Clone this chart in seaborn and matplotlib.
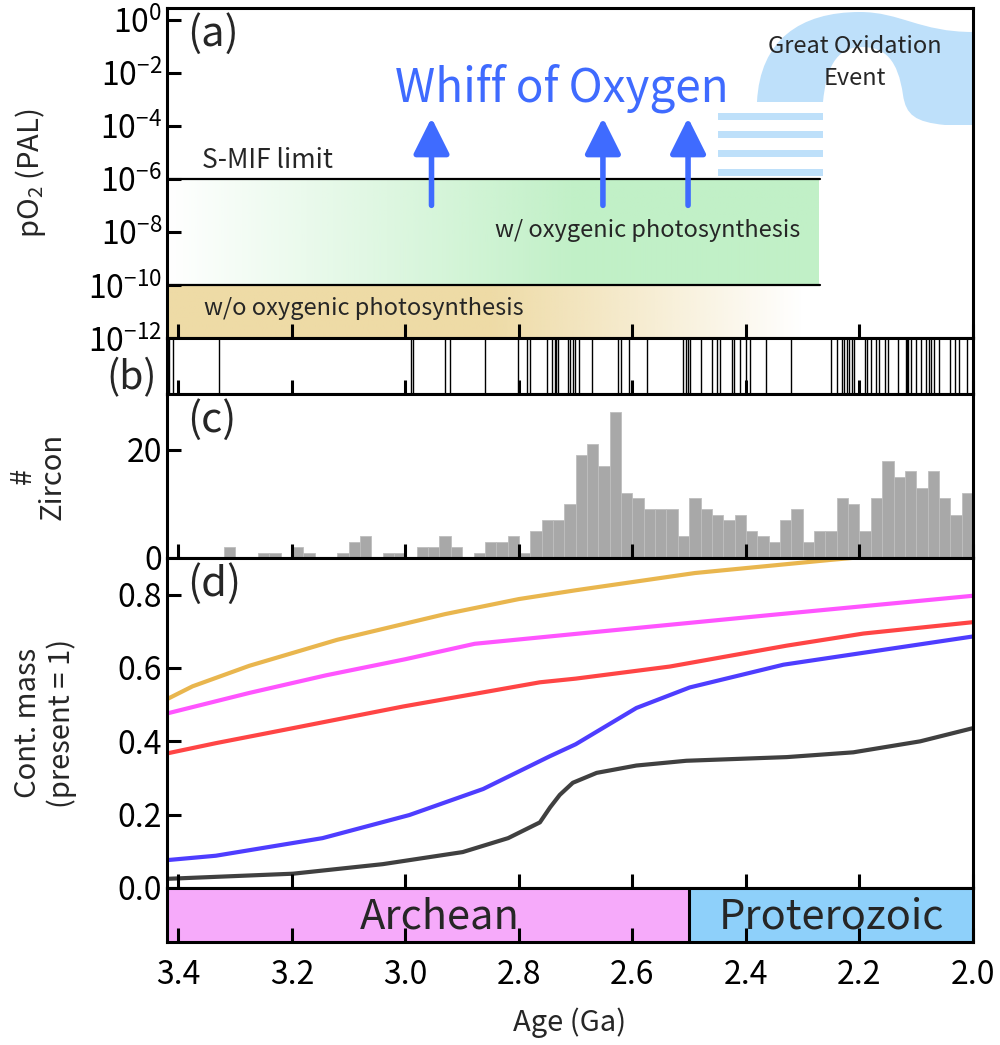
import numpy as np
import pandas as pd
import matplotlib
matplotlib.use("Agg")
import matplotlib.pyplot as plt
import seaborn as sns
from matplotlib.path import Path
from matplotlib.patches import PathPatch

# ---------------- data ----------------
age_ticks = [3.4, 3.2, 3.0, 2.8, 2.6, 2.4, 2.2, 2.0]
age_tick_labels = ["3.4", "3.2", "3.0", "2.8", "2.6", "2.4", "2.2", "2.0"]
age_limits = [3.42, 2.0]

po2_ticks = [1e0, 1e-2, 1e-4, 1e-6, 1e-8, 1e-10, 1e-12]
po2_limits = [1e-12, 10 ** 0.44]
smif_limit = 1e-6
photo_floor = 1e-10
photo_end_age = 2.27
whiff_ages = [2.954, 2.652, 2.502]
whiff_base = 10 ** -7.0
whiff_tip = 10 ** -3.7
goe_stripe_levels = [10 ** -3.66, 10 ** -4.34, 10 ** -5.06, 10 ** -5.77]
goe_stripe_ages = [2.45, 2.265]

event_ages = [3.417, 3.410, 3.329, 2.991, 2.987,
              2.931, 2.921, 2.860, 2.802, 2.785, 2.780, 2.750, 2.741, 2.737,
              2.734, 2.731, 2.714, 2.710, 2.705, 2.701, 2.694, 2.671, 2.626,
              2.621, 2.606, 2.575, 2.511, 2.506, 2.502, 2.498, 2.480,
              2.4605, 2.4505, 2.446, 2.4252, 2.4206, 2.4106, 2.4006, 2.3929,
              2.3654, 2.3206, 2.2500, 2.2400, 2.2312, 2.2271, 2.2224, 2.2183,
              2.2136, 2.2095, 2.1900, 2.1870, 2.1801, 2.1713, 2.1654, 2.1548,
              2.1501, 2.1325, 2.1180, 2.1160, 2.1145, 2.1090, 2.1006, 2.0912,
              2.0824, 2.0783, 2.0737, 2.0695, 2.0607, 2.0413, 2.0325, 2.0242,
              2.0106]

zircon_bin_start = [3.42, 3.40, 3.38, 3.36, 3.34, 3.32, 3.30, 3.28, 3.26, 3.24,
                    3.22, 3.20, 3.18, 3.16, 3.14, 3.12, 3.10, 3.08, 3.06, 3.04,
                    3.02, 3.00, 2.98, 2.96, 2.94, 2.92, 2.90, 2.88, 2.86, 2.84,
                    2.82, 2.80, 2.78, 2.76, 2.74, 2.72, 2.70, 2.68, 2.66, 2.64,
                    2.62, 2.60, 2.58, 2.56, 2.54, 2.52, 2.50, 2.48, 2.46, 2.44,
                    2.42, 2.40, 2.38, 2.36, 2.34, 2.32, 2.30, 2.28, 2.26, 2.24,
                    2.22, 2.20, 2.18, 2.16, 2.14, 2.12, 2.10, 2.08, 2.06, 2.04,
                    2.02]
zircon_counts = [0, 0, 0, 0, 0, 2, 0, 0, 1, 1,
                 0, 2, 1, 0, 0, 1, 3, 4, 0, 1,
                 1, 0, 2, 2, 4, 2, 0, 1, 3, 3,
                 4, 1, 5, 7, 7, 10, 19, 21, 17, 27,
                 12, 11, 9, 9, 9, 4, 11, 9, 8, 7,
                 8, 5, 4, 3, 7, 9, 3, 5, 5, 11,
                 10, 5, 11, 18, 15, 16, 13, 16, 11, 8,
                 12]
zircon_bin_width = 0.02

mass_orange_age = [3.42, 3.375, 3.275, 3.12, 2.93, 2.80, 2.70, 2.49, 2.25, 2.0]
mass_orange = [0.515, 0.550, 0.606, 0.677, 0.747, 0.788, 0.812, 0.859, 0.895, 0.93]
mass_magenta_age = [3.42, 3.275, 3.14, 3.00, 2.878, 2.70, 2.36, 2.0]
mass_magenta = [0.476, 0.532, 0.580, 0.624, 0.666, 0.693, 0.744, 0.797]
mass_red_age = [3.42, 3.334, 3.198, 3.004, 2.887, 2.763, 2.70, 2.534, 2.328, 2.193, 2.0]
mass_red = [0.367, 0.395, 0.436, 0.495, 0.527, 0.561, 0.571, 0.604, 0.661, 0.694, 0.725]
mass_blue_age = [3.42, 3.334, 3.146, 2.993, 2.863, 2.746, 2.70, 2.593, 2.499, 2.334, 2.0]
mass_blue = [0.076, 0.088, 0.136, 0.199, 0.270, 0.359, 0.392, 0.491, 0.547, 0.609, 0.686]
mass_gray_age = [3.42, 3.198, 3.04, 2.899, 2.819, 2.763, 2.745, 2.728, 2.705, 2.663,
                 2.593, 2.505, 2.328, 2.211, 2.093, 2.0]
mass_gray = [0.025, 0.039, 0.065, 0.098, 0.136, 0.179, 0.22, 0.254, 0.287, 0.314,
             0.334, 0.347, 0.357, 0.370, 0.400, 0.436]

eras = ["Archean", "Proterozoic"]
era_start = [3.42, 2.5]
era_end = [2.5, 2.0]
era_label_age = [2.94, 2.25]

# ---------------- style ----------------
sns.set_theme(style="ticks")
FONT = ["Noto Sans CJK JP", "DejaVu Sans"]
plt.rcParams["font.family"] = FONT
plt.rcParams["mathtext.fontset"] = "custom"
plt.rcParams["mathtext.rm"] = "Noto Sans CJK JP"
plt.rcParams["mathtext.default"] = "rm"
plt.rcParams["axes.linewidth"] = 2.2
plt.rcParams["axes.edgecolor"] = "black"
plt.rcParams["axes.axisbelow"] = False

TICK_FS = 23
LABEL_FS = 21
PANEL_FS = 30
BLUE_ARROW = "#3F6BFF"
LIGHT_BLUE = "#BEE0FA"

fig = plt.figure(figsize=(10, 10.45), dpi=100)
gs = fig.add_gridspec(5, 1, left=0.167, right=0.973, top=1 - 8 / 1045,
                      bottom=1 - 942 / 1045, hspace=0,
                      height_ratios=[330, 56, 164, 330, 54])
axa = fig.add_subplot(gs[0])
axb = fig.add_subplot(gs[1], sharex=axa)
axc = fig.add_subplot(gs[2], sharex=axa)
axd = fig.add_subplot(gs[3], sharex=axa)
axe = fig.add_subplot(gs[4], sharex=axa)

for ax in (axa, axb, axc, axd, axe):
    ax.set_axisbelow(False)
    ax.tick_params(direction="in", length=10, width=2.2, labelsize=TICK_FS,
                   top=False, right=False, colors="black")
    for s in ax.spines.values():
        s.set_linewidth(2.2)
        s.set_color("black")
for ax in (axa, axb, axc, axd):
    ax.tick_params(axis="x", labelbottom=False)

# ---------------- (a) pO2 ----------------
axa.set_yscale("log")
axa.set_xlim(age_limits)
axa.set_ylim(po2_limits)

n = 400
xs = np.linspace(age_limits[0], photo_end_age, n)
tan_alpha = np.clip((xs - 2.30) / (2.85 - 2.30), 0, 1)
tan_img = np.zeros((1, n, 4))
tan_img[..., 0] = 238 / 255
tan_img[..., 1] = 219 / 255
tan_img[..., 2] = 166 / 255
tan_img[..., 3] = tan_alpha
axa.imshow(tan_img, extent=(age_limits[0], photo_end_age, po2_limits[0], photo_floor),
           aspect="auto", interpolation="bilinear", zorder=0.1)
green_alpha = np.clip((age_limits[0] - xs) / (age_limits[0] - 2.70), 0, 1)
green_img = np.zeros((1, n, 4))
green_img[..., 0] = 193 / 255
green_img[..., 1] = 240 / 255
green_img[..., 2] = 199 / 255
green_img[..., 3] = green_alpha
axa.imshow(green_img, extent=(age_limits[0], photo_end_age, photo_floor, smif_limit),
           aspect="auto", interpolation="bilinear", zorder=0.1)
axa.set_xlim(age_limits)
axa.set_ylim(po2_limits)
axa.xaxis.set_zorder(10)
axa.yaxis.set_zorder(10)

axa.plot([age_limits[0], photo_end_age], [smif_limit, smif_limit], color="black", lw=1.6, zorder=3)
axa.plot([age_limits[0], photo_end_age], [photo_floor, photo_floor], color="black", lw=1.6, zorder=3)

for lvl in goe_stripe_levels:
    axa.fill_between(goe_stripe_ages, lvl / 10 ** 0.13, lvl * 10 ** 0.13,
                     color=LIGHT_BLUE, lw=0, zorder=1)

# Great Oxidation Event arch (decorative, axes-pixel coordinates)
def apx(px, py):
    return ((px - 167) / 806, (338 - py) / 330)

verts = [apx(757, 102),
         apx(760, 40), apx(800, 12), apx(860, 12),
         apx(900, 12), apx(920, 32), apx(973, 32),
         apx(973, 125),
         apx(945, 125),
         apx(915, 122), apx(906, 115), apx(903, 95),
         apx(898, 60), apx(885, 47), apx(862, 47),
         apx(835, 47), apx(826, 70), apx(823, 102),
         apx(757, 102)]
codes = [Path.MOVETO,
         Path.CURVE4, Path.CURVE4, Path.CURVE4,
         Path.CURVE4, Path.CURVE4, Path.CURVE4,
         Path.LINETO, Path.LINETO,
         Path.CURVE4, Path.CURVE4, Path.CURVE4,
         Path.CURVE4, Path.CURVE4, Path.CURVE4,
         Path.CURVE4, Path.CURVE4, Path.CURVE4,
         Path.CLOSEPOLY]
axa.add_patch(PathPatch(Path(verts, codes), facecolor=LIGHT_BLUE, edgecolor="none",
                        transform=axa.transAxes, zorder=1, clip_on=True))

for a in whiff_ages:
    axa.annotate("", xy=(a, whiff_tip), xytext=(a, whiff_base),
                 arrowprops=dict(arrowstyle="-|>,head_length=1.1,head_width=0.55",
                                 color=BLUE_ARROW, lw=4.0, mutation_scale=20,
                                 shrinkA=0, shrinkB=0), zorder=5)

axa.text(2.725, 10 ** -2.6, "Whiff of Oxygen", color=BLUE_ARROW, fontsize=33,
         ha="center", va="center", zorder=6)
axa.text(3.358, 10 ** -5.3, "S-MIF limit", fontsize=19, ha="left", va="center", zorder=6)
axa.text(2.305, 10 ** -7.95, "w/ oxygenic photosynthesis", fontsize=17,
         ha="right", va="center", zorder=6)
axa.text(3.354, 10 ** -10.9, "w/o oxygenic photosynthesis", fontsize=17,
         ha="left", va="center", zorder=6)
axa.text(2.208, 10 ** -1.62, "Great Oxidation\nEvent", fontsize=17, ha="center",
         va="center", linespacing=1.5, zorder=6)

axa.set_yticks(po2_ticks)
axa.yaxis.set_minor_locator(matplotlib.ticker.NullLocator())
axa.set_ylabel("pO$_2$ (PAL)", fontsize=LABEL_FS)
axa.yaxis.set_label_coords(-0.148, 0.5)
axa.text(0.025, 0.985, "(a)", transform=axa.transAxes, fontsize=PANEL_FS, va="top", ha="left")

# ---------------- (b) events ----------------
sns.rugplot(x=event_ages, height=1, color="black", lw=1.0, ax=axb, expand_margins=False)
axb.set_yticks([])
axb.set_ylim(0, 1)
axb.text(-0.012, 0.28, "(b)", transform=axb.transAxes, fontsize=28,
         va="center", ha="right")

# ---------------- (c) zircon ----------------
zdf = pd.DataFrame({"age": np.array(zircon_bin_start) - zircon_bin_width / 2,
                    "count": zircon_counts})
edges = sorted(set(np.round(list(zircon_bin_start) +
                            [zircon_bin_start[-1] - zircon_bin_width], 2)))
sns.histplot(data=zdf, x="age", weights="count", bins=edges, color="#A8A8A8",
             alpha=1, edgecolor="#BEBEBE", linewidth=0.6, ax=axc)
axc.set_ylim(0, 30.3)
axc.set_yticks([0, 20])
axc.set_ylabel("#\nZircon", fontsize=LABEL_FS, linespacing=1.0)
axc.yaxis.set_label_coords(-0.123, 0.5)
axc.text(0.025, 0.97, "(c)", transform=axc.transAxes, fontsize=PANEL_FS, va="top", ha="left")

# ---------------- (d) continental mass ----------------
curves = [("orange", mass_orange_age, mass_orange, "#E9B64E"),
          ("magenta", mass_magenta_age, mass_magenta, "#FF55FF"),
          ("red", mass_red_age, mass_red, "#FF4545"),
          ("blue", mass_blue_age, mass_blue, "#4E3DFF"),
          ("gray", mass_gray_age, mass_gray, "#404040")]
frames = []
for name, ages, vals, col in curves:
    frames.append(pd.DataFrame({"age": ages, "mass": vals, "model": name}))
mdf = pd.concat(frames, ignore_index=True)
sns.lineplot(data=mdf, x="age", y="mass", hue="model",
             palette={c[0]: c[3] for c in curves}, estimator=None, sort=True,
             lw=3.0, legend=False, ax=axd)
axd.set_ylim(0, 0.9)
axd.set_yticks([0.0, 0.2, 0.4, 0.6, 0.8])
axd.set_yticklabels(["0.0", "0.2", "0.4", "0.6", "0.8"])
axd.set_ylabel("Cont. mass\n(present = 1)", fontsize=LABEL_FS, linespacing=1.15)
axd.yaxis.set_label_coords(-0.112, 0.5)
axd.set_xlabel("")
axd.text(0.025, 0.985, "(d)", transform=axd.transAxes, fontsize=PANEL_FS, va="top", ha="left")

# ---------------- eras ----------------
era_colors = ["#F6AAFA", "#8ED0FA"]
for name, s, e, c, lx in zip(eras, era_start, era_end, era_colors, era_label_age):
    axe.barh(0.5, e - s, left=s, height=1.0, color=c, edgecolor="none", zorder=0)
    axe.text(lx, 0.47, name, fontsize=30, ha="center", va="center")
axe.axvline(era_end[0], color="black", lw=2.2)
axe.set_ylim(0, 1)
axe.set_yticks([])
axe.set_xlim(age_limits)
axe.set_xticks(age_ticks)
axe.set_xticklabels(age_tick_labels)
axe.tick_params(axis="x", pad=12)
axe.set_xlabel("Age (Ga)", fontsize=LABEL_FS, labelpad=12)

for ax in (axa, axb, axc, axd):
    ax.set_xlabel("")

fig.savefig("out.png", dpi=100)
